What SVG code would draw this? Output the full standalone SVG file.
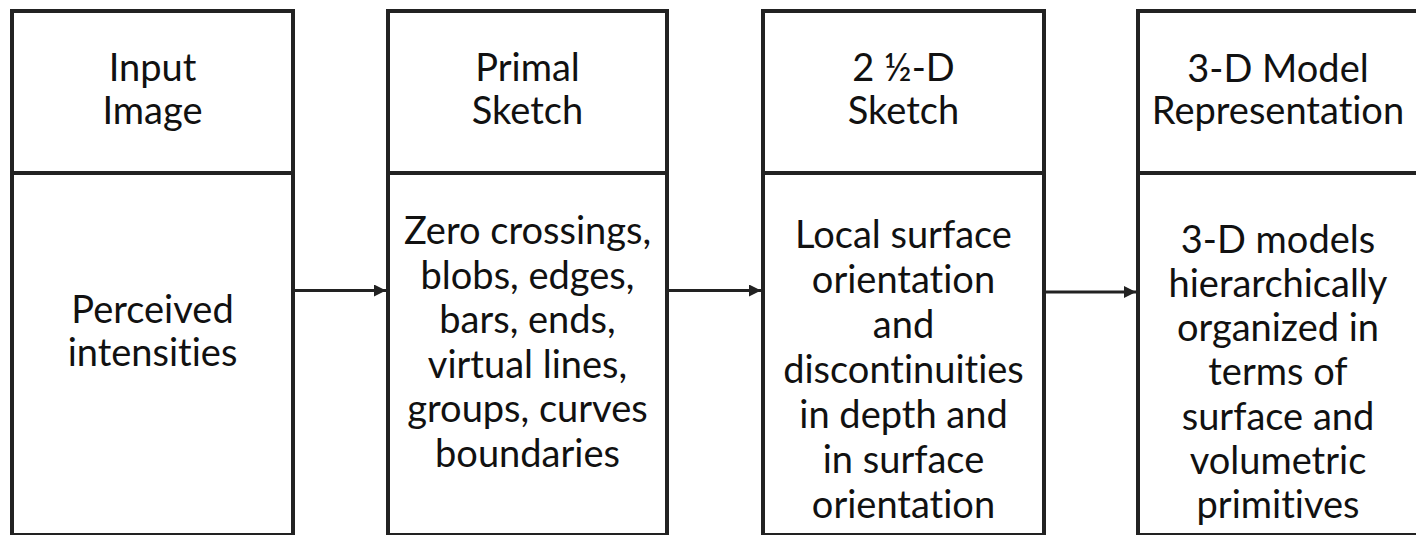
<svg xmlns="http://www.w3.org/2000/svg" width="1416" height="535" viewBox="0 0 1416 535">
<style>
.box{fill:#fff;stroke:#222;stroke-width:4}
.div{stroke:#222;stroke-width:4}
.t{font-family:Lato,"Open Sans","Liberation Sans",sans-serif;font-size:38px;font-weight:400;fill:#111;text-anchor:middle;font-variant-ligatures:none;font-feature-settings:"liga" 0}
.c{stroke:#222;stroke-width:3;fill:none}
</style>
<defs>
<marker id="ah" viewBox="0 0 10 10" refX="10" refY="5" markerWidth="4" markerHeight="4" markerUnits="strokeWidth" orient="auto">
<path d="M0,0 L10,5 L0,10 z" fill="#222"/>
</marker>
</defs>
<rect width="1416" height="535" fill="#fff"/>
<g id="node-input">
<rect class="box" x="12" y="11" width="281" height="524"/>
<line class="div" x1="12" y1="173" x2="293" y2="173"/>
<text class="t" x="152.5" y="81">Input</text>
<text class="t" x="152.5" y="124">Image</text>
<text class="t" x="152.5" y="323">Perceived</text>
<text class="t" x="152.5" y="366">intensities</text>
</g>
<g id="node-primal">
<rect class="box" x="388" y="11" width="279" height="524"/>
<line class="div" x1="388" y1="173" x2="667" y2="173"/>
<text class="t" x="527.5" y="81">Primal</text>
<text class="t" x="527.5" y="124">Sketch</text>
<text class="t" x="527.5" y="244">Zero crossings,</text>
<text class="t" x="527.5" y="289">blobs, edges,</text>
<text class="t" x="527.5" y="333">bars, ends,</text>
<text class="t" x="527.5" y="378">virtual lines,</text>
<text class="t" x="527.5" y="422">groups, curves</text>
<text class="t" x="527.5" y="467">boundaries</text>
</g>
<g id="node-25d">
<rect class="box" x="763" y="11" width="281" height="524"/>
<line class="div" x1="763" y1="173" x2="1044" y2="173"/>
<text class="t" x="903.5" y="81">2 ½-D</text>
<text class="t" x="903.5" y="124">Sketch</text>
<text class="t" x="903.5" y="248">Local surface</text>
<text class="t" x="903.5" y="293">orientation</text>
<text class="t" x="903.5" y="338">and</text>
<text class="t" x="903.5" y="383">discontinuities</text>
<text class="t" x="903.5" y="428">in depth and</text>
<text class="t" x="903.5" y="473">in surface</text>
<text class="t" x="903.5" y="518">orientation</text>
</g>
<g id="node-3d">
<rect class="box" x="1138" y="11" width="281" height="524"/>
<line class="div" x1="1138" y1="173" x2="1419" y2="173"/>
<text class="t" x="1278" y="82">3-D Model</text>
<text class="t" x="1278" y="124">Representation</text>
<text class="t" x="1278" y="253">3-D models</text>
<text class="t" x="1278" y="297">hierarchically</text>
<text class="t" x="1278" y="341">organized in</text>
<text class="t" x="1278" y="385">terms of</text>
<text class="t" x="1278" y="430">surface and</text>
<text class="t" x="1278" y="474">volumetric</text>
<text class="t" x="1278" y="518">primitives</text>
</g>
<g id="connectors">
<line class="c" x1="295" y1="290.5" x2="386" y2="290.5" marker-end="url(#ah)"/>
<line class="c" x1="669" y1="290.5" x2="761" y2="290.5" marker-end="url(#ah)"/>
<line class="c" x1="1046" y1="292" x2="1136" y2="292" marker-end="url(#ah)"/>
</g>
</svg>
